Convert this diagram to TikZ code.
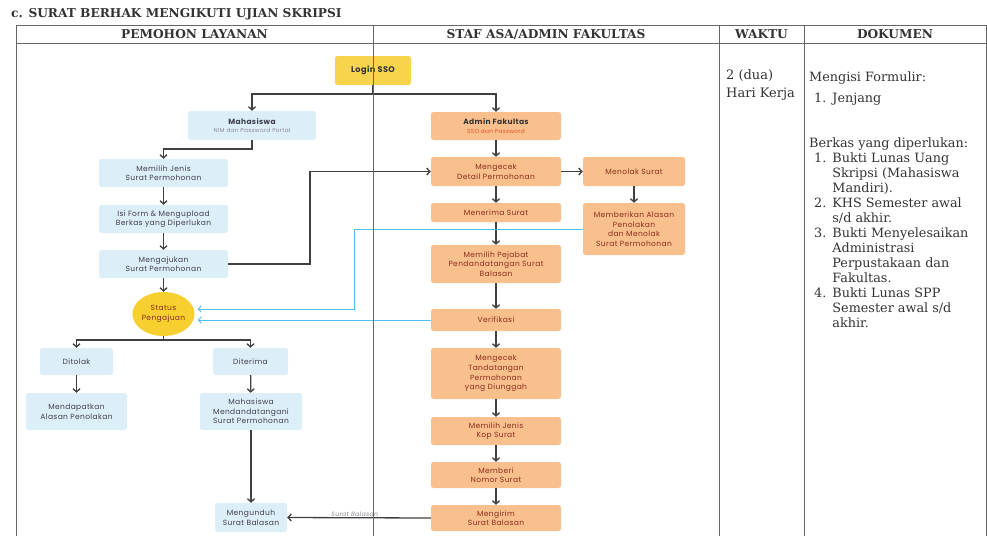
\documentclass[tikz,border=0pt]{standalone}
\usepackage{fontspec}
\newfontfamily\boxfont[LetterSpace=5]{Poppins}
\newfontfamily\serf{DejaVu Serif}
\newcommand\bkfont[2]{\fontsize{#1}{#2}\serf}
\newcommand\bkbold[2]{\fontsize{#1}{#2}\serf\bfseries}
\usetikzlibrary{arrows.meta,shapes.geometric,calc}
\definecolor{boxblue}{HTML}{DCEFF9}
\definecolor{bluetext}{HTML}{3E3E4C}
\definecolor{boxorange}{HTML}{F9BF8C}
\definecolor{orangetext}{HTML}{8A2E1C}
\definecolor{boxyellow}{HTML}{F8D44C}
\definecolor{statyellow}{HTML}{F7D030}
\definecolor{arrowc}{HTML}{404040}
\definecolor{cyanl}{HTML}{4FC1EE}
\definecolor{tblc}{HTML}{666666}
\definecolor{subgray}{HTML}{8A8A95}
\definecolor{subred}{HTML}{E2512E}
\begin{document}
\begin{tikzpicture}[x=1pt,y=-1pt,
  boxbase/.style={rectangle, rounded corners=2.5pt, inner sep=0pt, align=center,
    font=\boxfont\fontsize{7.5}{9.6}\selectfont},
  bbox/.style={boxbase, fill=boxblue, text=bluetext},
  obox/.style={boxbase, fill=boxorange, text=orangetext},
  ybox/.style={boxbase, fill=boxyellow, text=black!80},
  line/.style={draw=arrowc, line width=1.3pt},
  arr/.style={line, -{Straight Barb[length=3.2pt,width=7pt]}},
  carr/.style={draw=cyanl, line width=0.9pt, -{Straight Barb[length=3pt,width=6.5pt]}},
  tbl/.style={draw=tblc, line width=0.8pt},
  hdr/.style={font={\bkbold{12.2}{14}}, text=black!80, inner sep=0pt}
]
\useasboundingbox (0,0) rectangle (987,536);

% ---- left column (pemohon) ----
\node[ybox, minimum width=76pt, minimum height=29pt, font=\boxfont\fontsize{8.2}{10}\selectfont] (login) at (373,70.5) {\bfseries Login SSO};
\node[bbox, minimum width=128pt, minimum height=29pt] (mhs) at (252,125.5)
  {\bfseries Mahasiswa\\[-1pt]{\fontsize{5.8}{7}\selectfont\color{subgray}NIM dan Password Portal}};
\node[bbox, minimum width=129pt, minimum height=28pt] (memilih) at (163.5,173) {Memilih Jenis\\Surat Permohonan};
\node[bbox, minimum width=129pt, minimum height=28pt] (isi) at (163.5,219) {Isi Form \& Mengupload\\Berkas yang Diperlukan};
\node[bbox, minimum width=129pt, minimum height=28pt] (ajukan) at (163.5,264) {Mengajukan\\Surat Permohonan};
\node[ellipse, fill=statyellow, text=orangetext, inner sep=0pt, minimum width=62pt, minimum height=44pt,
  align=center, font=\boxfont\fontsize{7.5}{9.6}\selectfont] (status) at (163.5,314) {Status\\Pengajuan};
\node[bbox, minimum width=73pt, minimum height=27pt] (ditolak) at (76.5,361.5) {Ditolak};
\node[bbox, minimum width=75pt, minimum height=27pt] (diterima) at (250.5,361.5) {Diterima};
\node[bbox, minimum width=101pt, minimum height=37pt] (dapat) at (76.5,411.5) {Mendapatkan\\Alasan Penolakan};
\node[bbox, minimum width=102pt, minimum height=37pt] (ttd) at (251,411.5) {Mahasiswa\\Mendandatangani\\Surat Permohonan};
\node[bbox, minimum width=72pt, minimum height=29pt] (unduh) at (251,517.5) {Mengunduh\\Surat Balasan};

% ---- staf column ----
\node[obox, minimum width=130pt, minimum height=28pt, text=black!80] (admin) at (496,126)
  {\bfseries Admin Fakultas\\[-1pt]{\fontsize{5.8}{7}\selectfont\color{subred}SSO dan Password}};
\node[obox, minimum width=130pt, minimum height=29pt] (cek) at (496,171.5) {Mengecek\\Detail Permohonan};
\node[obox, minimum width=102pt, minimum height=29pt] (tolak) at (634,171.5) {Menolak Surat};
\node[obox, minimum width=130pt, minimum height=19pt] (terima) at (496,212.5) {Menerima Surat};
\node[obox, minimum width=102pt, minimum height=52pt] (alasan) at (634,229) {Memberikan Alasan\\Penolakan\\dan Menolak\\Surat Permohonan};
\node[obox, minimum width=130pt, minimum height=38pt] (pejabat) at (496,264) {Memilih Pejabat\\Pendandatangan Surat\\Balasan};
\node[obox, minimum width=130pt, minimum height=22pt] (verif) at (496,320) {Verifikasi};
\node[obox, minimum width=130pt, minimum height=51pt] (cekttd) at (496,373.5) {Mengecek\\Tandatangan\\Permohonan\\yang Diunggah};
\node[obox, minimum width=130pt, minimum height=28pt] (kop) at (496,431) {Memilih Jenis\\Kop Surat};
\node[obox, minimum width=130pt, minimum height=26pt] (nomor) at (496,475) {Memberi\\Nomor Surat};
\node[obox, minimum width=130pt, minimum height=26pt] (kirim) at (496,518) {Mengirim\\Surat Balasan};

% ---- connectors ----
\coordinate (j1) at (373,94);
\draw[line] (login.south) -- (j1);
\draw[arr] (j1) -| (mhs.north);
\draw[arr] (j1) -| (admin.north);
\coordinate (j2) at (252,149);
\draw[arr] (mhs.south) -- (j2) -| (memilih.north);
\draw[arr] (memilih) -- (isi);
\draw[arr] (isi) -- (ajukan);
\draw[arr] (ajukan) -- (status);
\coordinate (j3) at (310,264);
\draw[arr] (ajukan.east) -- (j3) |- (cek.west);
\draw[arr] (admin) -- (cek);
\draw[arr] (cek) -- (tolak);
\draw[arr] (tolak) -- (alasan);
\draw[arr] (cek) -- (terima);
\draw[arr] (terima) -- (pejabat);
\draw[arr] (pejabat) -- (verif);
\draw[arr] (verif) -- (cekttd);
\draw[arr] (cekttd) -- (kop);
\draw[arr] (kop) -- (nomor);
\draw[arr] (nomor) -- (kirim);
\coordinate (c1) at (354,309);
\draw[carr] (alasan.west) -| (c1) -- ($(status.east |- c1)+(3,0)$);
\draw[carr] (verif.west) -- ($(status.east |- verif.west)+(3,0)$);
\coordinate (j5) at (163.5,340);
\draw[line] (status.south) -- (j5);
\draw[arr] (j5) -| (ditolak.north);
\draw[arr] (j5) -| (diterima.north);
\draw[arr] (ditolak) -- (dapat);
\draw[arr] (diterima) -- (ttd);
\draw[arr] (ttd) -- (unduh);
\draw[arr] (kirim.west) -- node[pos=0.53, above=1pt, inner sep=0pt, text=subgray,
  font=\boxfont\fontsize{6.2}{7}\selectfont\itshape] (lbl) {Surat Balasan} (unduh.east);

% ---- table ----
\node[anchor=west, inner sep=0pt, font={\bkbold{12.2}{14}}, text=black!80] (title) at (11,14) {c. SURAT BERHAK MENGIKUTI UJIAN SKRIPSI};
\draw[tbl] (16,25) -- (986,25);
\draw[tbl] (16,43) -- (986,43);
\foreach \xx in {16,373,719,804,986} { \draw[tbl] (\xx,25) -- (\xx,536); }
\node[hdr] (h1) at (194.5,34.5) {PEMOHON LAYANAN};
\node[hdr] (h2) at (546,34.5) {STAF ASA/ADMIN FAKULTAS};
\node[hdr] (h3) at (761.5,34.5) {WAKTU};
\node[hdr] (h4) at (895,34.5) {DOKUMEN};

\node[anchor=north west, inner sep=0pt, align=left, font={\bkfont{13}{18}}, text=black!80] (waktu) at (726,69)
  {2 (dua)\\Hari Kerja};
\node[anchor=north west, inner sep=0pt, font={\bkfont{12.8}{15}}, text=black!80] (dok) at (809,71) {%
  \begin{tabular}{@{\hspace{5pt}}r@{\hspace{6pt}}l@{}}
  \multicolumn{2}{@{}l@{}}{Mengisi Formulir:}\\[6pt]
  1. & Jenjang\\[30pt]
  \multicolumn{2}{@{}l@{}}{Berkas yang diperlukan:}\\
  1. & Bukti Lunas Uang\\
     & Skripsi (Mahasiswa\\
     & Mandiri).\\
  2. & KHS Semester awal\\
     & s/d akhir.\\
  3. & Bukti Menyelesaikan\\
     & Administrasi\\
     & Perpustakaan dan\\
     & Fakultas.\\
  4. & Bukti Lunas SPP\\
     & Semester awal s/d\\
     & akhir.
  \end{tabular}};
\end{tikzpicture}
\end{document}
